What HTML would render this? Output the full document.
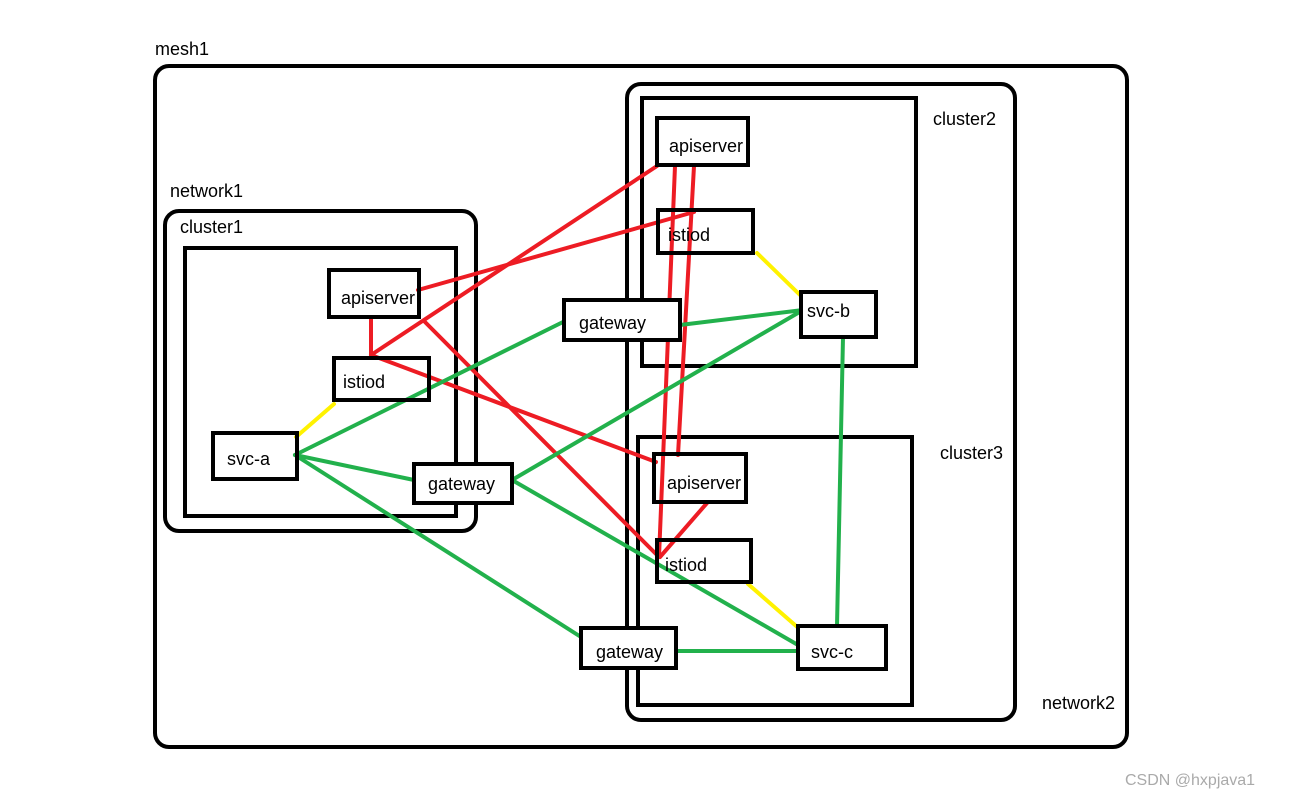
<!DOCTYPE html>
<html><head><style>
html,body{margin:0;padding:0;background:#fff;}
svg text{font-family:"Liberation Sans","DejaVu Sans",sans-serif;font-size:18px;fill:#000;}
</style></head><body>
<svg width="1291" height="800" viewBox="0 0 1291 800" xmlns="http://www.w3.org/2000/svg">
<rect width="1291" height="800" fill="#fff"/>
<g fill="none" stroke="#000" stroke-width="4">
<rect x="155" y="66" width="972" height="681" rx="14"/>
<rect x="165" y="211" width="311" height="320" rx="14"/>
<rect x="185" y="248" width="271" height="268"/>
<rect x="627" y="84" width="388" height="636" rx="14"/>
<rect x="642" y="98" width="274" height="268"/>
<rect x="638" y="437" width="274" height="268"/>
</g>
<g stroke-width="4" stroke-linecap="round" fill="none">
<g stroke="#ed1c24">
<line x1="371" y1="318" x2="371" y2="355"/>
<line x1="371" y1="355" x2="657" y2="166"/>
<line x1="418" y1="290" x2="694" y2="212"/>
<line x1="371" y1="355" x2="656" y2="462"/>
<line x1="425" y1="322" x2="659" y2="557"/>
<line x1="675" y1="166" x2="659" y2="557"/>
<line x1="694" y1="166" x2="678" y2="455"/>
<line x1="707" y1="503" x2="660" y2="557"/>
</g>
<g stroke="#fff200">
<line x1="334" y1="404" x2="296" y2="437"/>
<line x1="757" y1="253" x2="800" y2="295"/>
<line x1="748" y1="584" x2="803" y2="632"/>
</g>
<g stroke="#22b14c">
<line x1="295" y1="455" x2="567" y2="320"/>
<line x1="295" y1="455" x2="414" y2="480"/>
<line x1="295" y1="455" x2="581" y2="637"/>
<line x1="680" y1="325" x2="803" y2="310"/>
<line x1="512" y1="480" x2="803" y2="310"/>
<line x1="512" y1="480" x2="798" y2="645"/>
<line x1="677" y1="651" x2="798" y2="651"/>
<line x1="843" y1="337" x2="837" y2="626"/>
</g>
</g>
<g fill="none" stroke="#000" stroke-width="4">
<rect x="329" y="270" width="90" height="47"/>
<rect x="334" y="358" width="95" height="42"/>
<rect x="213" y="433" width="84" height="46"/>
<rect x="414" y="464" width="98" height="39" fill="#fff"/>
<rect x="657" y="118" width="91" height="47"/>
<rect x="658" y="210" width="95" height="43"/>
<rect x="564" y="300" width="116" height="40" fill="#fff"/>
<rect x="801" y="292" width="75" height="45" fill="#fff"/>
<rect x="654" y="454" width="92" height="48"/>
<rect x="657" y="540" width="94" height="42"/>
<rect x="581" y="628" width="95" height="40" fill="#fff"/>
<rect x="798" y="626" width="88" height="43" fill="#fff"/>
</g>
<text x="155" y="55">mesh1</text>
<text x="170" y="197">network1</text>
<text x="180" y="233">cluster1</text>
<text x="933" y="125">cluster2</text>
<text x="940" y="459">cluster3</text>
<text x="1042" y="709">network2</text>
<text x="341" y="304">apiserver</text>
<text x="343" y="388">istiod</text>
<text x="227" y="465">svc-a</text>
<text x="428" y="490">gateway</text>
<text x="669" y="152">apiserver</text>
<text x="668" y="241">istiod</text>
<text x="579" y="329">gateway</text>
<text x="807" y="317">svc-b</text>
<text x="667" y="489">apiserver</text>
<text x="665" y="571">istiod</text>
<text x="596" y="658">gateway</text>
<text x="811" y="658">svc-c</text>
<text x="1125" y="785" style="fill:#aaa;font-size:16px">CSDN @hxpjava1</text>
</svg>
</body></html>
